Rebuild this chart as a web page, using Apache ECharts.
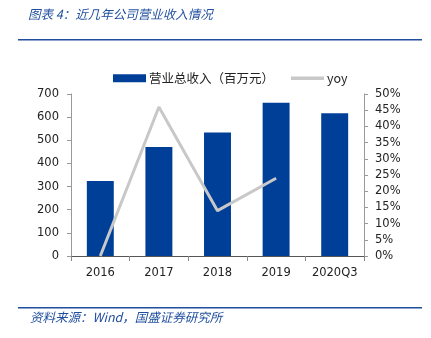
<!DOCTYPE html>
<html>
<head>
<meta charset="utf-8">
<script src="https://cdn.jsdelivr.net/npm/echarts@6/dist/echarts.min.js"></script>
<style>
  html, body { margin: 0; padding: 0; background: #fff; }
  #chart { width: 431px; height: 338px; }
</style>
</head>
<body>
<div id="chart"></div>
<script>
// Annual revenue (millions) and year-over-year growth (%)
const categories = ['2016', '2017', '2018', '2019', '2020Q3'];
const revenue = [324, 471, 534, 662, 617];
const yoy = [0, 46, 14, 24, null];
const leftTicks = { min: 0, max: 700, interval: 100 };
const rightTicks = { min: 0, max: 50, interval: 5 };

const chart = echarts.init(document.getElementById('chart'), null, { renderer: 'canvas' });
const tickFont = { fontFamily: 'DejaVu Sans', fontSize: 11.5, color: '#222' };

chart.setOption({
  animation: false,
  backgroundColor: '#fff',
  grid: { left: 71, right: 67, top: 94, bottom: 82 },
  legend: {
    top: 67,
    left: 108,
    itemGap: 17,
    itemWidth: 33,
    itemHeight: 8,
    textStyle: { fontFamily: 'Noto Sans CJK SC', fontSize: 12.5, color: '#222', padding: [0, 0, 0, -2] },
    data: [
      { name: '营业总收入（百万元）', icon: 'rect' },
      { name: 'yoy', icon: 'path://M0,0 L40,0 L40,4 L0,4 Z', itemStyle: { color: '#c8c8c8' } }
    ]
  },
  xAxis: {
    type: 'category',
    data: categories,
    axisLine: { lineStyle: { color: '#555', width: 1 } },
    axisTick: { show: true, alignWithLabel: false, length: 5, lineStyle: { color: '#888' } },
    axisLabel: Object.assign({ margin: 11, interval: 0 }, tickFont)
  },
  yAxis: [
    {
      type: 'value',
      min: leftTicks.min, max: leftTicks.max, interval: leftTicks.interval,
      axisLine: { show: true, lineStyle: { color: '#999' } },
      axisTick: { show: true, length: 4, lineStyle: { color: '#999' } },
      splitLine: { show: false },
      axisLabel: Object.assign({ margin: 12 }, tickFont)
    },
    {
      type: 'value',
      min: rightTicks.min, max: rightTicks.max, interval: rightTicks.interval,
      axisLine: { show: true, lineStyle: { color: '#999' } },
      axisTick: { show: true, length: 4, lineStyle: { color: '#999' } },
      splitLine: { show: false },
      axisLabel: Object.assign({ margin: 11, formatter: '{value}%' }, tickFont)
    }
  ],
  series: [
    {
      name: '营业总收入（百万元）',
      type: 'bar',
      data: revenue,
      barWidth: '46%',
      itemStyle: { color: '#003f98' }
    },
    {
      name: 'yoy',
      type: 'line',
      yAxisIndex: 1,
      data: yoy,
      showSymbol: false,
      symbol: 'none',
      lineStyle: { color: '#c8c8c8', width: 3 },
      itemStyle: { color: '#c8c8c8' }
    }
  ],
  graphic: [
    {
      type: 'text', left: 28, top: 8,
      style: {
        text: '图表 4：近几年公司营业收入情况',
        font: 'italic 12.5px "Noto Sans CJK SC"',
        fill: '#1f4e9e'
      }
    },
    { type: 'rect', shape: { x: 18, y: 39, width: 404, height: 1.5 }, style: { fill: '#1f4e9e' } },
    { type: 'rect', shape: { x: 18, y: 307, width: 404, height: 1.5 }, style: { fill: '#1f4e9e' } },
    {
      type: 'text', left: 30, top: 311,
      style: {
        text: '资料来源：Wind，国盛证券研究所',
        font: 'italic 12.5px "Noto Sans CJK SC"',
        fill: '#1f4e9e'
      }
    }
  ]
});
</script>
</body>
</html>
